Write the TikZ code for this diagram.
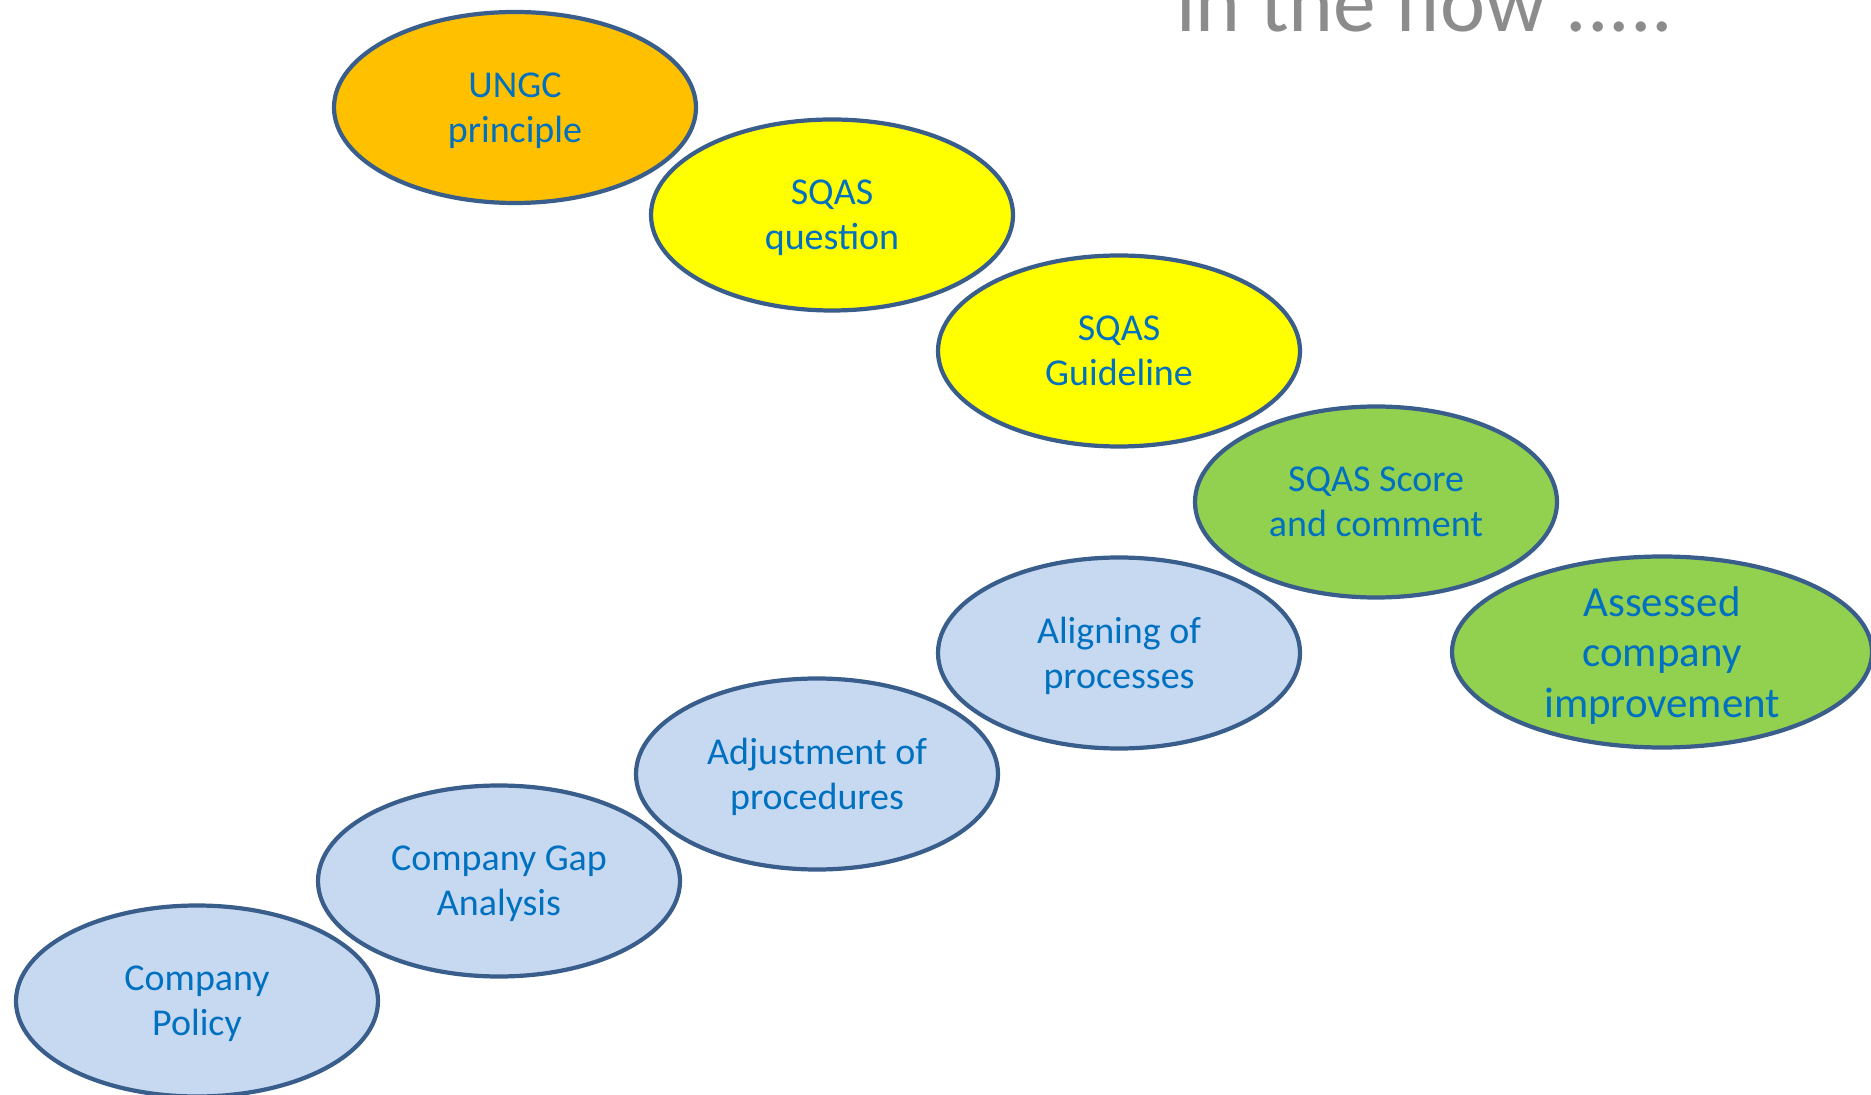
\documentclass[tikz,border=0pt]{standalone}
\usepackage{fontspec}
\setmainfont{Carlito}
\usepackage{xcolor}
\usetikzlibrary{shapes.geometric}

\definecolor{rim}{HTML}{3A5E8C}
\definecolor{txtblue}{HTML}{0070C0}
\definecolor{ungcorange}{HTML}{FFC000}
\definecolor{sqasyellow}{HTML}{FFFF00}
\definecolor{scoregreen}{HTML}{92D050}
\definecolor{paleblue}{HTML}{C6D9F1}
\definecolor{titlegrey}{HTML}{8C8C8C}

\tikzset{
  stepoval/.style={ellipse, draw=rim, line width=1.2pt, inner sep=0pt,
    minimum width=3.62cm, minimum height=1.91cm, align=center,
    text=txtblue, font=\fontsize{10.8}{12.8}\selectfont, text depth=0pt},
}

\begin{document}
\begin{tikzpicture}
\def\W{18.71}
\def\H{10.95}
\useasboundingbox (0,0) rectangle (\W,-\H);

% upper staircase: principle -> question -> guideline -> score
\coordinate (Pu) at (5.15,-1.075);
\coordinate (Pq) at (8.32,-2.15);
\coordinate (Pg) at (11.19,-3.51);
\coordinate (Ps) at (13.76,-5.02);
\coordinate (Pa) at (16.62,-6.52);
% lower staircase, from the company side
\coordinate (Pl) at (11.19,-6.53);
\coordinate (Pj) at (8.17,-7.74);
\coordinate (Pc) at (4.99,-8.81);
\coordinate (Pp) at (1.97,-10.01);

\node[anchor=base west, text=titlegrey, font=\fontsize{24.3}{28}\selectfont] (title) at (11.64,-0.32) {in the flow .....};

\node[stepoval, fill=ungcorange] (ungc) at (Pu) {UNGC\\principle};
\node[stepoval, fill=sqasyellow] (question) at (Pq) {SQAS\\question};
\node[stepoval, fill=sqasyellow] (guideline) at (Pg) {SQAS\\Guideline};
\node[stepoval, fill=scoregreen] (score) at (Ps) {SQAS Score\\and comment};
\node[stepoval, fill=scoregreen, minimum width=4.20cm,
      font=\fontsize{12.2}{14.4}\selectfont] (assessed) at (Pa) {Assessed\\company\\improvement};

\node[stepoval, fill=paleblue] (aligning) at (Pl) {Aligning of\\processes};
\node[stepoval, fill=paleblue] (adjust) at (Pj) {Adjustment of\\procedures};
\node[stepoval, fill=paleblue] (gap) at (Pc) {Company Gap\\Analysis};
\node[stepoval, fill=paleblue] (policy) at (Pp) {Company\\Policy};

\end{tikzpicture}
\end{document}
